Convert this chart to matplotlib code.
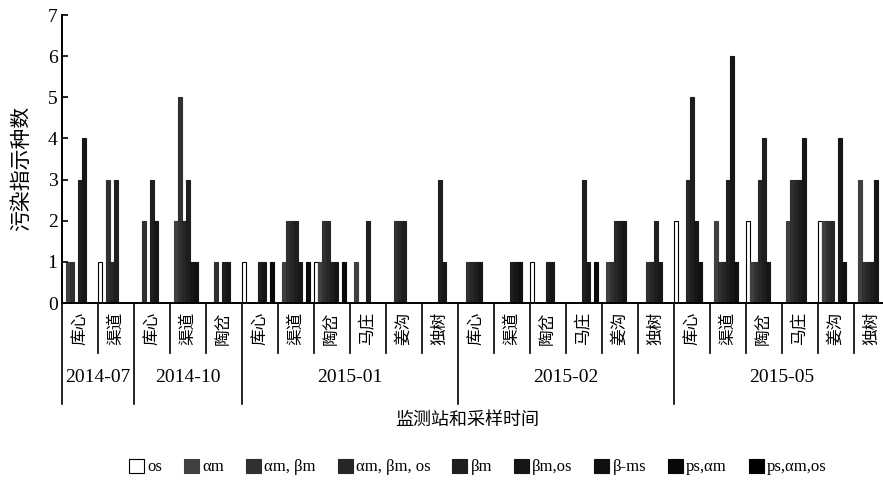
import numpy as np
import matplotlib.pyplot as plt

plt.rcParams['font.family'] = ['Liberation Serif', 'Noto Sans CJK SC', 'DejaVu Sans']

# categories (site, sampling date)
sites = ['库心', '渠道',
         '库心', '渠道', '陶岔',
         '库心', '渠道', '陶岔', '马庄', '姜沟', '独树',
         '库心', '渠道', '陶岔', '马庄', '姜沟', '独树',
         '库心', '渠道', '陶岔', '马庄', '姜沟', '独树']
dates = ['2014-07', '2014-10', '2015-01', '2015-02', '2015-05']
sites_per_date = [2, 3, 6, 6, 6]

series_names = ['os', 'αm', 'αm, βm', 'αm, βm, os', 'βm', 'βm,os', 'β-ms', 'ps,αm', 'ps,αm,os']

# number of indicator species, one list per series (23 site/date groups)
os_vals      = [0, 1, 0, 0, 0, 1, 0, 1, 0, 0, 0, 0, 0, 1, 0, 0, 0, 2, 0, 2, 0, 2, 0]
am_vals      = [1, 0, 0, 2, 0, 0, 1, 1, 1, 0, 0, 0, 0, 0, 0, 1, 0, 0, 2, 1, 2, 2, 3]
am_bm_vals   = [1, 3, 2, 5, 1, 0, 2, 2, 0, 2, 0, 1, 0, 0, 0, 1, 1, 0, 1, 1, 3, 2, 1]
am_bm_os     = [0, 1, 0, 2, 0, 0, 2, 2, 0, 2, 0, 1, 0, 0, 0, 2, 1, 3, 1, 3, 3, 2, 1]
bm_vals      = [3, 3, 3, 3, 1, 1, 2, 1, 2, 2, 3, 1, 1, 1, 3, 2, 2, 5, 3, 4, 3, 0, 1]
bm_os_vals   = [4, 0, 2, 1, 1, 1, 1, 1, 0, 0, 1, 1, 1, 1, 1, 2, 1, 2, 6, 1, 4, 4, 3]
b_ms_vals    = [0, 0, 0, 1, 0, 0, 0, 0, 0, 0, 0, 0, 1, 0, 0, 0, 0, 1, 1, 0, 0, 1, 0]
ps_am_vals   = [0, 0, 0, 0, 0, 1, 1, 1, 0, 0, 0, 0, 0, 0, 1, 0, 0, 0, 0, 0, 0, 0, 0]
ps_am_os     = [0] * 23

all_series = [os_vals, am_vals, am_bm_vals, am_bm_os, bm_vals,
              bm_os_vals, b_ms_vals, ps_am_vals, ps_am_os]
colors = ['white', '#404040', '#303030', '#262626', '#1e1e1e',
          '#161616', '#101010', '#080808', 'black']

n_groups = len(sites)
n_series = len(all_series)
bw = 1.0 / n_series
x = np.arange(n_groups)

fig = plt.figure(figsize=(8.83, 4.82), dpi=100)
ax = fig.add_axes([61.7/883, 179/482, 828/883, 288/482])

for k, (vals, name, c) in enumerate(zip(all_series, series_names, colors)):
    ec = 'black' if c == 'white' else c
    ax.bar(x + (k + 0.5) * bw, vals, width=bw, color=c, edgecolor=ec,
           linewidth=0.8, label=name)

ax.set_xlim(0, n_groups)
ax.set_ylim(0, 7)
ax.set_yticks(range(8))
ax.tick_params(axis='y', direction='in', length=4, width=1.2, labelsize=14, pad=3)
ax.set_xticks([])
ax.spines['top'].set_visible(False)
ax.spines['right'].set_visible(False)
ax.spines['left'].set_linewidth(1.4)
ax.spines['bottom'].set_linewidth(1.4)

trans = ax.get_xaxis_transform()
for i, s in enumerate(sites):
    ax.text(i + 0.5, -0.03, s, transform=trans, rotation=90, ha='center', va='top',
            fontsize=12, family=['Noto Sans CJK SC'])

date_edges = np.concatenate([[0], np.cumsum(sites_per_date)])
for b in range(n_groups + 1):
    low = -0.35 if b in date_edges else -0.175
    ax.plot([b, b], [0, low], transform=trans, clip_on=False, color='black', lw=1.2)

for d, a, b in zip(dates, date_edges[:-1], date_edges[1:]):
    ax.text((a + b) / 2, -0.26, d, transform=trans, ha='center', va='center', fontsize=14)

fig.text(467/883, 1 - 420/482, '监测站和采样时间', ha='center', va='center',
         fontsize=13, family=['Noto Sans CJK SC'])
fig.text(21/883, 1 - 168/482, '污染指示种数', ha='center', va='center', rotation=90,
         fontsize=15, family=['Noto Sans CJK SC'])

fig.legend(ncol=9, loc='center', bbox_to_anchor=(478/883, 1 - 467/482), frameon=False,
           fontsize=12, handlelength=0.9, handleheight=0.9, handletextpad=0.2,
           columnspacing=1.3)

fig.savefig('out.png', dpi=100)
